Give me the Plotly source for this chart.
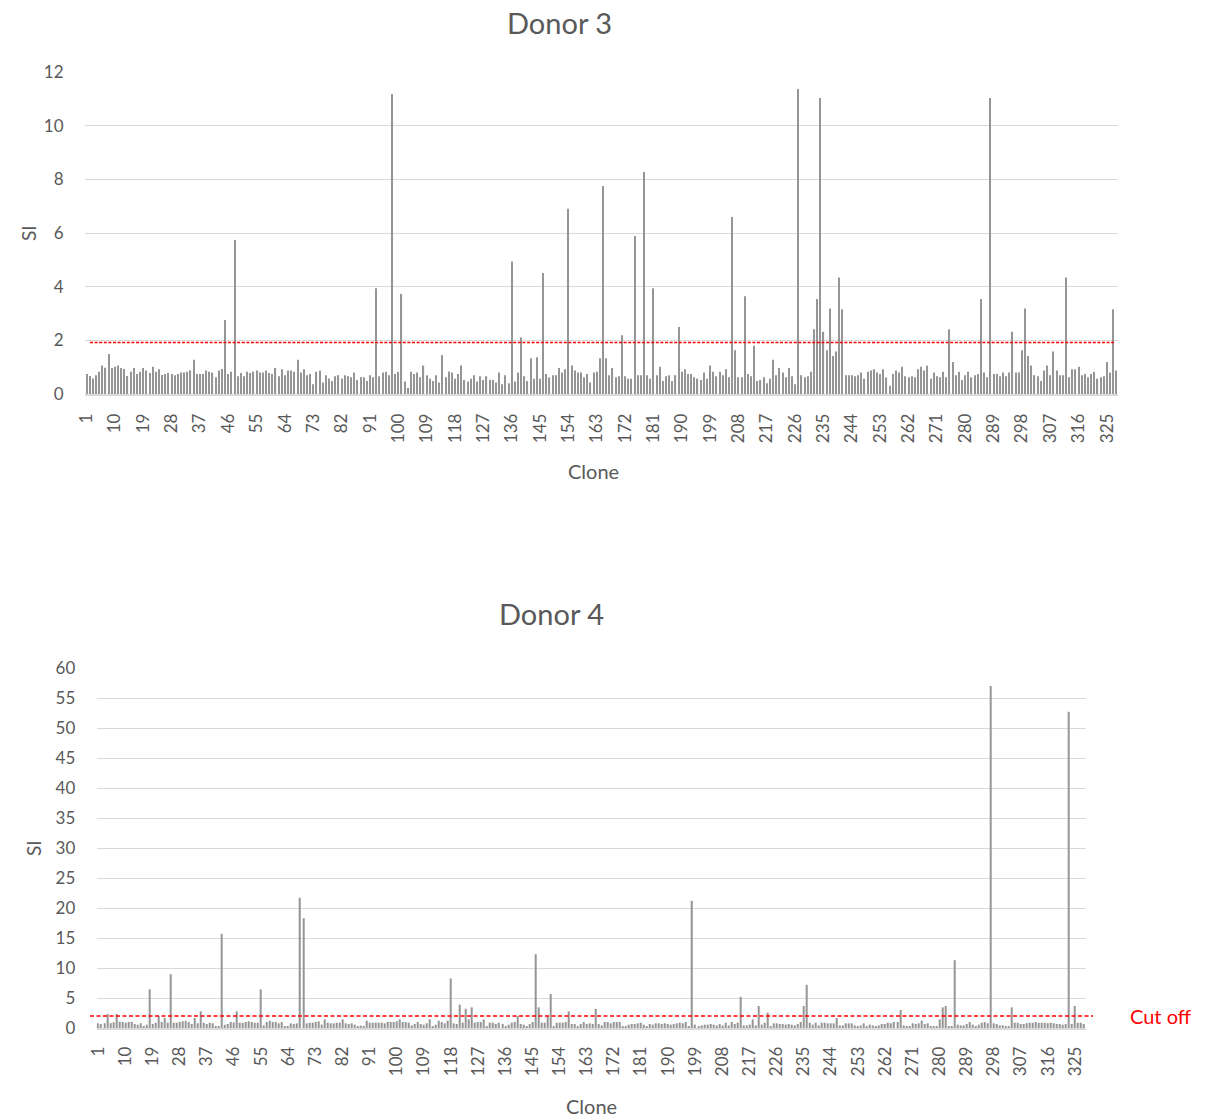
import plotly.graph_objects as go

# ---------------- data ----------------
clones_d3 = list(range(1, 329))
si_d3 = [
    0.75, 0.67, 0.58, 0.70, 0.83, 1.06, 0.98, 1.49, 0.97, 1.02,
    1.06, 0.97, 0.93, 0.67, 0.83, 0.97, 0.75, 0.83, 0.97, 0.88,
    0.78, 1.02, 0.83, 0.92, 0.71, 0.75, 0.78, 0.75, 0.70, 0.75,
    0.80, 0.80, 0.83, 0.88, 1.28, 0.75, 0.75, 0.75, 0.88, 0.83,
    0.80, 0.62, 0.88, 0.93, 2.76, 0.75, 0.83, 5.74, 0.66, 0.78,
    0.66, 0.83, 0.78, 0.83, 0.88, 0.80, 0.80, 0.88, 0.78,
    0.75, 0.97, 0.66, 0.92, 0.70, 0.88, 0.88, 0.83, 1.28, 0.80,
    0.92, 0.70, 0.75, 0.36, 0.83, 0.88, 0.43, 0.70, 0.58, 0.48,
    0.66, 0.70, 0.58, 0.70, 0.66, 0.62, 0.80, 0.52, 0.62, 0.62,
    0.48, 0.70, 0.62, 3.94, 0.66, 0.80, 0.83, 0.70, 11.18, 0.75,
    0.83, 3.73, 0.47, 0.22, 0.83, 0.75, 0.80, 0.62, 1.06, 0.70,
    0.57, 0.48, 0.70, 0.43, 1.45, 0.62, 0.84, 0.80, 0.57, 0.75,
    1.06, 0.52, 0.47, 0.57, 0.70, 0.47, 0.66, 0.52, 0.66, 0.52,
    0.52, 0.43, 0.80, 0.36, 0.70, 0.40, 4.94, 0.47, 0.80, 2.11,
    0.66, 0.48, 1.33, 0.57, 1.37, 0.57, 4.51, 0.75, 0.62, 0.70,
    0.70, 0.97, 0.80, 0.92, 6.90, 1.06, 0.88, 0.80, 0.80, 0.62,
    0.75, 0.43, 0.80, 0.83, 1.33, 7.75, 1.33, 0.70, 0.97, 0.62,
    0.66, 2.19, 0.66, 0.57, 0.57, 5.89, 0.70, 0.70, 8.27, 0.70,
    0.57, 3.94, 0.70, 1.02, 0.48, 0.66, 0.70, 0.48, 0.70, 2.50,
    0.83, 0.92, 0.75, 0.75, 0.62, 0.57, 0.52, 0.80, 0.57, 1.06,
    0.83, 0.66, 0.83, 0.70, 0.92, 0.62, 6.60, 1.63, 0.62, 0.62,
    3.64, 0.75, 0.66, 1.80, 0.48, 0.52, 0.62, 0.40, 0.57, 1.28,
    0.70, 0.97, 0.80, 0.62, 0.97, 0.66, 0.36, 11.37, 0.70, 0.62,
    0.66, 0.83, 2.41, 3.54, 11.03, 2.32, 1.63, 3.19, 1.42, 1.58,
    4.34, 3.16, 0.70, 0.70, 0.70, 0.66, 0.70, 0.80, 0.57, 0.83,
    0.88, 0.92, 0.80, 0.75, 0.92, 0.62, 0.31, 0.75, 0.88,
    0.80, 1.02, 0.66, 0.62, 0.66, 0.62, 0.92, 1.02, 0.88, 1.06,
    0.57, 0.80, 0.66, 0.62, 0.83, 0.62, 2.41, 1.19, 0.70, 0.83,
    0.52, 0.70, 0.83, 0.62, 0.70, 0.75, 3.54, 0.80, 0.62, 11.03,
    0.75, 0.75, 0.66, 0.80, 0.66, 0.80, 2.32, 0.80, 0.80, 1.63,
    3.19, 1.42, 1.06, 0.70, 0.66, 0.48, 0.88, 1.06, 0.70, 1.58,
    0.88, 0.70, 0.70, 4.34, 0.62, 0.92, 0.92, 1.02, 0.70, 0.75,
    0.62, 0.75, 0.83, 0.57, 0.62, 0.66, 1.19, 0.80, 3.16, 0.88,
]

clones_d4 = list(range(1, 329))
si_d4 = [
    0.78, 0.67, 0.78, 2.33, 0.78, 0.94, 2.33, 1.06, 1.00, 0.89,
    1.00, 1.06, 0.67, 0.56, 0.78, 0.20, 0.56, 6.44, 0.67, 0.89,
    2.00, 1.00, 1.67, 0.89, 8.95, 0.89, 0.89, 1.00, 1.11, 1.22,
    1.00, 0.67, 1.67, 0.78, 2.78, 0.89, 0.67, 0.89, 0.78, 0.30,
    0.20, 15.7, 0.56, 0.67, 1.00, 0.90, 2.78, 0.89, 0.89, 1.00,
    1.11, 1.00, 0.89, 0.89, 6.44, 0.44, 1.00, 1.22, 1.00, 1.00,
    0.78, 1.00, 0.20, 0.30, 0.78, 0.67, 0.78, 21.7, 18.3, 0.78,
    0.89, 0.89, 1.00, 1.11, 0.56, 1.44, 0.89, 0.78, 0.78, 0.89,
    0.89, 1.44, 0.78, 0.67, 0.78, 0.56, 0.30, 0.40, 0.30, 1.22,
    0.89, 0.89, 0.89, 0.89, 0.89, 0.78, 1.00, 1.00, 1.00, 1.11,
    1.44, 1.00, 1.00, 0.89, 0.44, 0.67, 1.00, 0.67, 0.56, 0.78,
    1.44, 0.25, 0.56, 1.22, 1.00, 0.78, 1.22, 8.25, 0.78, 0.67,
    3.90, 0.89, 3.20, 1.44, 3.44, 0.89, 1.00, 1.00, 1.44, 0.30,
    0.89, 0.89, 0.67, 0.89, 0.67, 0.30, 0.56, 0.89, 1.00, 2.00,
    0.67, 0.56, 0.30, 0.67, 1.00, 12.3, 3.44, 0.89, 0.89, 2.00,
    5.67, 0.30, 0.89, 0.89, 0.89, 1.00, 2.78, 0.67, 0.67, 0.30,
    0.67, 1.00, 0.67, 0.78, 0.67, 3.20, 0.67, 0.44, 1.00, 1.00,
    0.78, 1.00, 1.00, 1.00, 0.30, 0.25, 0.56, 0.67, 0.67, 0.78,
    0.89, 0.56, 0.30, 0.67, 0.56, 0.78, 0.78, 0.67, 0.78, 0.67,
    0.56, 0.67, 0.78, 0.89, 0.78, 1.00, 0.30, 21.2, 0.56, 0.25,
    0.44, 0.56, 0.56, 0.67, 0.56, 0.44, 0.67, 0.44, 0.89, 0.44,
    1.00, 0.67, 0.89, 5.20, 0.44, 0.44, 0.56, 1.44, 0.44, 3.67,
    0.56, 0.89, 2.56, 0.30, 0.78, 0.78, 0.67, 0.67, 0.56, 0.67,
    0.56, 0.44, 0.67, 1.00, 3.67, 7.20, 0.89, 0.56, 0.89, 0.44,
    0.89, 0.89, 0.78, 0.78, 0.78, 1.67, 0.44, 0.44, 0.78, 0.78,
    0.78, 0.44, 0.33, 0.44, 0.78, 0.25, 0.56, 0.44, 0.20, 0.44,
    0.67, 0.67, 0.89, 0.78, 1.00, 1.00, 3.00, 0.44, 0.33, 0.33,
    0.78, 0.67, 0.78, 1.22, 0.67, 0.78, 0.30, 0.25, 0.30, 1.44,
    3.44, 3.67, 0.30, 0.25, 11.3, 0.56, 0.44, 0.44, 0.67, 1.00,
    0.56, 0.25, 0.56, 0.89, 1.00, 0.78, 57.0, 0.78, 0.67, 0.44,
    0.44, 0.33, 0.25, 3.44, 0.89, 0.89, 0.67, 0.67, 0.78, 0.89,
    0.89, 1.00, 0.89, 0.89, 0.89, 0.78, 0.89, 0.78, 0.67, 0.67,
    0.56, 0.67, 52.7, 0.67, 3.67, 0.89, 0.89, 0.67,
]

tick_clones = list(range(1, 329, 9))
cutoff_d3 = 1.92
cutoff_d4 = 2.0
titles = ["Donor 3", "Donor 4"]

# ---------------- figure ----------------
W, H = 1206, 1120
FONT = "Lato"
GREY = "#595959"
GRID = "#d9d9d9"
BAR = "#959595"

def px(x):
    return x / W

def py(y):
    return 1 - y / H

fig = go.Figure()
fig.add_trace(go.Bar(x=clones_d3, y=si_d3, marker_color=BAR, marker_line_width=0,
                     xaxis="x", yaxis="y", showlegend=False))
fig.add_trace(go.Bar(x=clones_d4, y=si_d4, marker_color=BAR, marker_line_width=0,
                     xaxis="x2", yaxis="y2", showlegend=False))

xcommon = dict(range=[0.5, 328.5], tickmode="array", tickvals=tick_clones,
               ticktext=[str(v) for v in tick_clones], tickangle=-90,
               tickfont=dict(family=FONT, size=17, color=GREY), automargin=False,
               showgrid=False, zeroline=False, showline=True, linecolor=GRID,
               linewidth=1.5, ticks="outside", tickcolor="rgba(0,0,0,0)")
ycommon = dict(tickfont=dict(family=FONT, size=17, color=GREY), showgrid=True,
               gridcolor=GRID, gridwidth=1.3, zeroline=False, showline=False,
               automargin=False, ticks="outside", ticklen=17,
               tickcolor="rgba(0,0,0,0)")

fig.update_layout(
    template="none",
    width=W, height=H, margin=dict(l=0, r=0, t=0, b=0, pad=0, autoexpand=False),
    paper_bgcolor="white", plot_bgcolor="white", bargap=0.64,
    xaxis=dict(domain=[px(85), px(1118)], anchor="y", ticklen=11, **xcommon),
    yaxis=dict(domain=[py(394), py(72)], anchor="x", range=[0, 12], dtick=2, **ycommon),
    xaxis2=dict(domain=[px(96.7), px(1085.7)], anchor="y2", ticklen=10, **xcommon),
    yaxis2=dict(domain=[py(1028), py(668)], anchor="x2", range=[0, 60], dtick=5, **ycommon),
)

fig.add_shape(type="line", xref="paper", yref="y", x0=px(90), x1=px(1114),
              y0=cutoff_d3, y1=cutoff_d3, layer="above",
              line=dict(color="#ff0000", width=1.5, dash="3px,1.6px"))
fig.add_shape(type="line", xref="paper", yref="y2", x0=px(90), x1=px(1093),
              y0=cutoff_d4, y1=cutoff_d4, layer="above",
              line=dict(color="#ff0000", width=1.5, dash="4px,2.5px"))

ann = [
    dict(text=titles[0], x=px(559), y=py(22), size=29, color=GREY, angle=0),
    dict(text=titles[1], x=px(551), y=py(613), size=29, color=GREY, angle=0),
    dict(text="SI", x=px(28), y=py(233), size=19, color=GREY, angle=-90),
    dict(text="SI", x=px(33), y=py(848), size=19, color=GREY, angle=-90),
    dict(text="Clone", x=px(593), y=py(471), size=20, color=GREY, angle=0),
    dict(text="Clone", x=px(591), y=py(1106), size=20, color=GREY, angle=0),
]
for a in ann:
    fig.add_annotation(text=a["text"], x=a["x"], y=a["y"], xref="paper", yref="paper",
                       xanchor="center", yanchor="middle", showarrow=False,
                       textangle=a["angle"],
                       font=dict(family=FONT, size=a["size"], color=a["color"]))
fig.add_annotation(text="Cut off", x=px(1128), y=cutoff_d4, xref="paper", yref="y2",
                   xanchor="left", yanchor="middle", showarrow=False,
                   font=dict(family=FONT, size=20, color="#ff0000"))

fig.write_html("out.html")
